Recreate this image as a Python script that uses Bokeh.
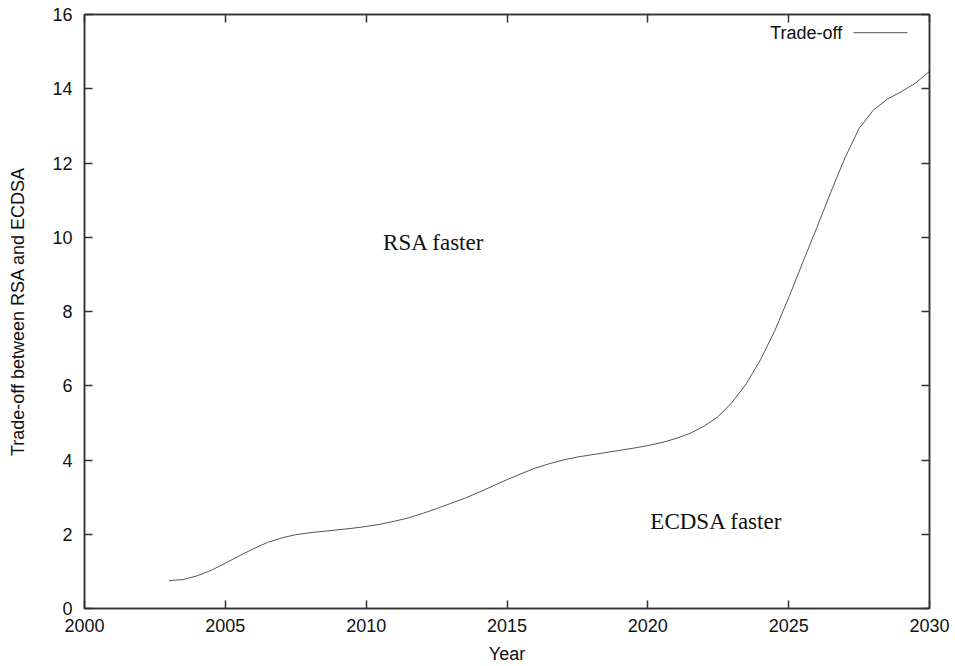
from bokeh.plotting import figure
from bokeh.models import LinearAxis, Range1d, FixedTicker, Label
from bokeh.embed import file_html
from bokeh.resources import INLINE

# Trade-off between RSA and ECDSA over time
years = [2003.0, 2003.5, 2004.0, 2004.5, 2005.0, 2005.5, 2006.0, 2006.5, 2007.0, 2007.5,
         2008.0, 2008.5, 2009.0, 2009.5, 2010.0, 2010.5, 2011.0, 2011.5, 2012.0, 2012.5,
         2013.0, 2013.5, 2014.0, 2014.5, 2015.0, 2015.5, 2016.0, 2016.5, 2017.0, 2017.5,
         2018.0, 2018.5, 2019.0, 2019.5, 2020.0, 2020.5, 2021.0, 2021.5, 2022.0, 2022.5,
         2023.0, 2023.5, 2024.0, 2024.5, 2025.0, 2025.5, 2026.0, 2026.5, 2027.0, 2027.5,
         2028.0, 2028.5, 2029.0, 2029.5, 2030.0]
tradeoff = [0.75, 0.78, 0.88, 1.03, 1.22, 1.42, 1.61, 1.78, 1.90, 1.99,
            2.04, 2.08, 2.12, 2.16, 2.21, 2.27, 2.35, 2.44, 2.56, 2.69,
            2.83, 2.97, 3.13, 3.30, 3.47, 3.63, 3.78, 3.90, 4.00, 4.08,
            4.14, 4.20, 4.26, 4.32, 4.39, 4.47, 4.58, 4.72, 4.91, 5.17,
            5.56, 6.06, 6.70, 7.47, 8.37, 9.32, 10.26, 11.22, 12.14, 12.93,
            13.42, 13.72, 13.92, 14.15, 14.47]

x_ticks = [2000, 2005, 2010, 2015, 2020, 2025, 2030]
y_ticks = [0, 2, 4, 6, 8, 10, 12, 14, 16]

SANS = "Liberation Sans"
SERIF = "Liberation Serif"
FRAME = "#333333"

p = figure(width=955, height=666, output_backend="svg", toolbar_location=None,
           x_range=Range1d(2000, 2030), y_range=Range1d(0, 16),
           min_border_left=84, min_border_right=26, min_border_top=14, min_border_bottom=58)
p.grid.visible = False
p.outline_line_color = FRAME
p.outline_line_width = 1.5
p.background_fill_color = "white"
p.border_fill_color = "white"


def style_axis(ax, ticks):
    ax.ticker = FixedTicker(ticks=ticks)
    ax.major_tick_in = 8
    ax.major_tick_out = 0
    ax.minor_tick_in = 0
    ax.minor_tick_out = 0
    ax.axis_line_color = FRAME
    ax.axis_line_width = 1.5
    ax.major_tick_line_color = FRAME
    ax.major_tick_line_width = 1.5
    ax.major_label_text_font = SANS
    ax.major_label_text_font_size = "18px"
    ax.major_label_text_color = "#111111"
    ax.axis_label_text_font = SANS
    ax.axis_label_text_font_size = "18px"
    ax.axis_label_text_font_style = "normal"
    ax.axis_label_text_color = "#111111"


style_axis(p.xaxis[0], x_ticks)
style_axis(p.yaxis[0], y_ticks)
p.xaxis[0].axis_label = "Year"
p.xaxis[0].major_label_standoff = 10
p.xaxis[0].axis_label_standoff = 9
p.yaxis[0].axis_label = "Trade-off between RSA and ECDSA"
p.yaxis[0].major_label_standoff = 12
p.yaxis[0].axis_label_standoff = 21

# mirrored ticks on the top and right edges, without labels
top = LinearAxis()
right = LinearAxis()
style_axis(top, x_ticks)
style_axis(right, y_ticks)
top.major_label_overrides = {t: "" for t in x_ticks}
right.major_label_overrides = {t: "" for t in y_ticks}
for ax in (top, right):
    ax.major_label_standoff = 0
p.add_layout(top, "above")
p.add_layout(right, "right")

p.line(years, tradeoff, line_color="#555555", line_width=1)

# key: label on the left, line sample on the right
p.add_layout(Label(x=2026.9, y=15.51, text="Trade-off", text_align="right",
                   text_baseline="middle", text_font=SANS, text_font_size="18px",
                   text_color="#111111"))
p.segment(x0=[2027.3], y0=[15.51], x1=[2029.22], y1=[15.51],
          line_color="#555555", line_width=1)

# region annotations
p.add_layout(Label(x=2010.6, y=9.86, text="RSA faster", text_align="left",
                   text_baseline="middle", text_font=SERIF, text_font_size="23px",
                   text_color="#111111"))
p.add_layout(Label(x=2020.09, y=2.35, text="ECDSA faster", text_align="left",
                   text_baseline="middle", text_font=SERIF, text_font_size="23px",
                   text_color="#111111"))

open("out.html", "w").write(file_html(p, INLINE))
